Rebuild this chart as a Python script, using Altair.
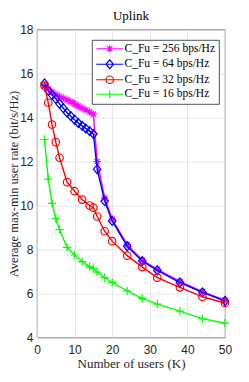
import altair as alt
import pandas as pd

# ---- data ----
users_dense = [2, 3, 4, 5, 6, 7, 8, 9, 10, 11, 12, 13, 14, 15, 16, 18, 20, 24, 28, 32, 38, 44, 50]
users_sparse = [2, 3, 4, 5, 6, 8, 10, 12, 14, 15, 16, 18, 20, 24, 28, 32, 38, 44, 50]

rate_256 = [15.45, 15.30, 15.15, 15.05, 14.95, 14.88, 14.80, 14.72, 14.62, 14.52, 14.43, 14.35,
            14.25, 14.15, 12.00, 10.35, 9.38, 8.22, 7.52, 7.10, 6.55, 6.08, 5.70]
rate_64 = [15.55, 15.22, 15.02, 14.85, 14.62, 14.42, 14.22, 14.06, 13.90, 13.75, 13.62, 13.50,
           13.38, 13.25, 11.65, 10.20, 9.30, 8.15, 7.47, 7.05, 6.50, 6.05, 5.66]
rate_32 = [15.45, 14.67, 13.68, 12.88, 12.17, 11.06, 10.65, 10.27, 10.00, 9.90, 9.50, 8.83,
           8.38, 7.72, 7.20, 6.72, 6.28, 5.85, 5.57]
rate_16 = [13.00, 11.20, 10.10, 9.40, 8.90, 8.10, 7.75, 7.45, 7.22, 7.14, 6.97, 6.72, 6.50,
           6.12, 5.78, 5.52, 5.20, 4.86, 4.65]

series_labels = ["C_Fu = 256 bps/Hz", "C_Fu = 64 bps/Hz", "C_Fu = 32 bps/Hz", "C_Fu = 16 bps/Hz"]
series_colors = ["#ff00ff", "#0000ff", "#ff0000", "#00ff00"]
series_x = [users_dense, users_dense, users_sparse, users_sparse]
series_y = [rate_256, rate_64, rate_32, rate_16]

x_ticks = [0, 10, 20, 30, 40, 50]
y_ticks = [4, 6, 8, 10, 12, 14, 16, 18]

# marker shapes (unit paths)
marker_paths = [
    "M-1,0H1M0,-1V1M-0.72,-0.72L0.72,0.72M-0.72,0.72L0.72,-0.72",  # asterisk
    "M0,-1.2L1,0L0,1.2L-1,0Z",                                     # diamond
    "M1,0A1,1 0 1,1 -1,0A1,1 0 1,1 1,0Z",                           # circle
    "M-1.1,0H1.1M0,-1.1V1.1",                                       # plus
]
legend_line = "M-3.6,0H3.6"
legend_paths = [legend_line + p for p in marker_paths]

rows = []
for lab, xs, ys in zip(series_labels, series_x, series_y):
    for xv, yv in zip(xs, ys):
        rows.append({"series": lab, "users": xv, "rate": yv})
df = pd.DataFrame(rows)

base = alt.Chart(df)

x_enc = alt.X(
    "users:Q",
    scale=alt.Scale(domain=[0, 50], nice=False),
    axis=alt.Axis(values=x_ticks, title="Number of users (K)", labelPadding=7,
                  titlePadding=2, labelFlush=False),
)
y_enc = alt.Y(
    "rate:Q",
    scale=alt.Scale(domain=[4, 18], nice=False, zero=False),
    axis=alt.Axis(values=y_ticks, title="Average max-min user rate (bit/s/Hz)",
                  labelPadding=4, titleX=-16.5, titleFontSize=12.5, labelFlush=False),
)

layers = []
for lab, col, mp in zip(series_labels, series_colors, marker_paths):
    sub = base.transform_filter(alt.datum.series == lab)
    layers.append(sub.mark_line(color=col, strokeWidth=1.4).encode(x=x_enc, y=y_enc))
    layers.append(
        sub.mark_point(shape=mp, color=col, filled=False, size=56, strokeWidth=1.2, opacity=1)
        .encode(x=x_enc, y=y_enc)
    )

leg = alt.Legend(
    title=None,
    orient="none",
    legendX=55,
    legendY=10.5,
    fillColor="white",
    strokeColor="#262626",
    padding=3,
    labelFont="Liberation Serif",
    labelFontSize=11.5,
    labelColor="black",
    rowPadding=1.5,
    symbolSize=56,
    symbolStrokeWidth=1.2,
    symbolOpacity=1,
    symbolOffset=9,
    labelOffset=9,
)

legend_layer = base.mark_point(filled=False, opacity=0, size=56).encode(
    x=x_enc,
    y=y_enc,
    color=alt.Color("series:N", scale=alt.Scale(domain=series_labels, range=series_colors), legend=leg),
    shape=alt.Shape("series:N", scale=alt.Scale(domain=series_labels, range=legend_paths), legend=leg),
)
layers.append(legend_layer)

chart = (
    alt.layer(*layers)
    .properties(
        width=188,
        height=308,
        autosize=alt.AutoSizeParams(type="none"),
        padding={"left": 29, "top": 21.5, "right": 16, "bottom": 36},
        title=alt.Title("Uplink", font="Liberation Serif", fontSize=13, fontWeight="normal",
                        color="black", offset=1),
    )
    .configure_view(stroke="#262626", strokeWidth=0.8)
    .configure_axis(
        grid=True,
        gridColor="#e2e2e2",
        gridWidth=0.8,
        domain=False,
        ticks=False,
        tickSize=0,
        labelFont="Liberation Sans",
        labelFontSize=12,
        labelColor="#262626",
        titleFont="Liberation Serif",
        titleFontSize=13,
        titleFontWeight="normal",
        titleColor="#262626",
    )
    .configure_legend(strokeWidth=0.8)
)

chart.save("out.html", embed_options={"renderer": "svg", "actions": False})
